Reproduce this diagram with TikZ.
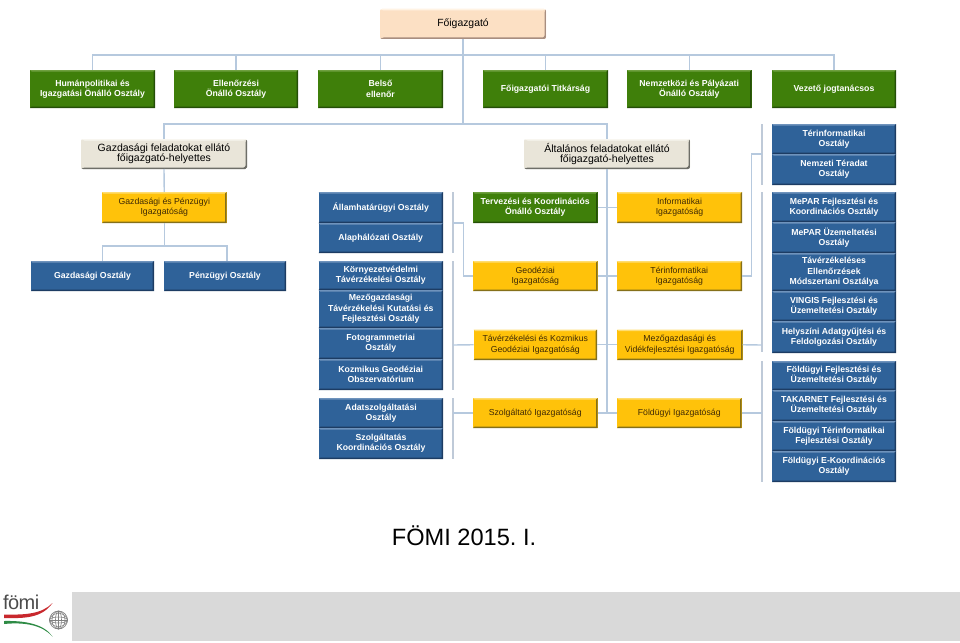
\documentclass[tikz,border=0pt]{standalone}
\usepackage{fontspec}
\setmainfont{Liberation Sans}
\definecolor{conn}{HTML}{B6C9DE}
\definecolor{barc}{HTML}{BFCAD8}
\definecolor{bluef}{HTML}{2F6299}
\definecolor{blueh}{HTML}{6F93BC}
\definecolor{blued}{HTML}{1D3C63}
\definecolor{greenf}{HTML}{3F7F0A}
\definecolor{greenh}{HTML}{6FA040}
\definecolor{greend}{HTML}{254F08}
\definecolor{yelf}{HTML}{FFC20A}
\definecolor{yelh}{HTML}{FFDD70}
\definecolor{yeld}{HTML}{85701A}
\definecolor{peachf}{HTML}{FCE0C4}
\definecolor{peachh}{HTML}{FFF3E4}
\definecolor{peachd}{HTML}{A88E80}
\definecolor{beigef}{HTML}{E9E5D9}
\definecolor{beigeh}{HTML}{F8F6F0}
\definecolor{beiged}{HTML}{6E6E68}
\definecolor{yeltxt}{HTML}{3F2A05}
\definecolor{logored}{HTML}{C8282D}
\definecolor{logogreen}{HTML}{2E8B45}
\tikzset{
  bevel/.style n args={3}{fill=#1,path picture={
    \fill[#2] (path picture bounding box.north west) -- (path picture bounding box.north east)
       -- ([xshift=-1.5pt,yshift=-1.5pt]path picture bounding box.north east)
       -- ([xshift=1.5pt,yshift=-1.5pt]path picture bounding box.north west) -- cycle;
    \fill[#3] (path picture bounding box.south west) -- (path picture bounding box.south east)
       -- (path picture bounding box.north east)
       -- ([xshift=-1.5pt,yshift=-1.5pt]path picture bounding box.north east)
       -- ([xshift=-1.5pt,yshift=1.5pt]path picture bounding box.south east)
       -- ([xshift=1.5pt,yshift=1.5pt]path picture bounding box.south west) -- cycle;
  }},
  basebox/.style={inner sep=0pt,outer sep=0pt,align=center},
  bluebox/.style={basebox,bevel={bluef}{blueh}{blued},text=white,font=\fontsize{8.7}{10.3}\selectfont\bfseries},
  greenbox/.style={basebox,bevel={greenf}{greenh}{greend},text=white,font=\fontsize{8.7}{10.3}\selectfont\bfseries},
  yelbox/.style={basebox,bevel={yelf}{yelh}{yeld},text=yeltxt,font=\fontsize{8.7}{10.3}\selectfont},
  bossbox/.style={basebox,rounded corners=2pt,bevel={peachf}{peachh}{peachd},text=black,font=\fontsize{10.4}{10}\selectfont},
  depbox/.style={basebox,rounded corners=2pt,bevel={beigef}{beigeh}{beiged},text=black,font=\fontsize{10.5}{10}\selectfont},
  link/.style={conn,line width=1.4pt,line join=miter},
  bar/.style={barc,line width=2pt},
  globe/.style={black!50,line width=0.6pt}
}
\newcommand{\bx}[7]{\node[#6,minimum width={(#4-#2)*1pt},minimum height={(#5-#3)*1pt}] (#1) at ({(#2+#4)/2},{(#3+#5)/2}) {#7};}
\begin{document}
\begin{tikzpicture}[x=1pt,y=-1pt]
\useasboundingbox (0,0) rectangle (960,642);
% boxes
\bx{boss}{380}{9}{546}{39}{bossbox}{Főigazgató}
\bx{gA}{30}{70}{155}{108}{greenbox}{Humánpolitikai  és\\Igazgatási  Önálló Osztály}
\bx{gB}{174}{70}{298}{108}{greenbox}{Ellenőrzési\\Önálló Osztály}
\bx{gC}{318}{70}{443}{108}{greenbox}{Belső\\ellenőr}
\bx{gD}{483}{70}{608}{108}{greenbox}{Főigazgatói Titkárság}
\bx{gE}{627}{70}{751.5}{108}{greenbox}{Nemzetközi és Pályázati\\Önálló Osztály}
\bx{gF}{772}{70}{896}{108}{greenbox}{Vezető jogtanácsos}
\bx{depA}{81}{139}{247}{169}{depbox}{Gazdasági feladatokat ellátó\\főigazgató-helyettes}
\bx{depB}{524}{139}{690}{169}{depbox}{Általános feladatokat ellátó\\főigazgató-helyettes}
\bx{yFin}{102}{192}{226.5}{223}{yelbox}{Gazdasági és Pénzügyi\\Igazgatóság}
\bx{bGaz}{31}{261}{154}{291}{bluebox}{Gazdasági Osztály}
\bx{bPen}{164}{261}{286}{291}{bluebox}{Pénzügyi Osztály}
\bx{cA}{318.5}{192}{443}{223}{bluebox}{Államhatárügyi Osztály}
\bx{cB}{318.5}{223}{443}{253}{bluebox}{Alaphálózati Osztály}
\bx{cC}{318.5}{261}{443}{290}{bluebox}{Környezetvédelmi\\Távérzékelési Osztály}
\bx{cD}{318.5}{290}{443}{328}{bluebox}{Mezőgazdasági\\Távérzékelési Kutatási és\\Fejlesztési Osztály}
\bx{cE}{318.5}{328}{443}{359}{bluebox}{Fotogrammetriai\\Osztály}
\bx{cF}{318.5}{359}{443}{390}{bluebox}{Kozmikus Geodéziai\\Obszervatórium}
\bx{cG}{319}{398}{443}{428}{bluebox}{Adatszolgáltatási\\Osztály}
\bx{cH}{319}{428}{443}{459}{bluebox}{Szolgáltatás\\Koordinációs Osztály}
\bx{dA}{473}{192}{597.5}{223}{greenbox}{Tervezési és Koordinációs\\Önálló Osztály}
\bx{dB}{473}{261}{597.5}{291}{yelbox}{Geodéziai\\Igazgatóság}
\bx{dC}{473.5}{329.5}{597}{360}{yelbox}{Távérzékelési és Kozmikus\\Geodéziai Igazgatóság}
\bx{dD}{473}{398}{597.5}{428}{yelbox}{Szolgáltató Igazgatóság}
\bx{eA}{617}{192}{742}{223}{yelbox}{Informatikai\\Igazgatóság}
\bx{eB}{616.5}{261}{742}{291}{yelbox}{Térinformatikai\\Igazgatóság}
\bx{eC}{617}{329.5}{742.5}{360}{yelbox}{Mezőgazdasági és\\Vidékfejlesztési Igazgatóság}
\bx{eD}{617}{398}{741.5}{428}{yelbox}{Földügyi Igazgatóság}
\bx{fA}{772}{124}{896}{154}{bluebox}{Térinformatikai\\Osztály}
\bx{fB}{772}{154}{896}{185}{bluebox}{Nemzeti Téradat\\Osztály}
\bx{fC}{772}{192}{896}{222}{bluebox}{MePAR Fejlesztési és\\Koordinációs Osztály}
\bx{fD}{772}{222}{896}{253}{bluebox}{MePAR Üzemeltetési\\Osztály}
\bx{fE}{772}{253}{896}{291}{bluebox}{Távérzékeléses\\Ellenőrzések\\Módszertani Osztálya}
\bx{fF}{772}{291}{896}{321}{bluebox}{VINGIS Fejlesztési és\\Üzemeltetési Osztály}
\bx{fG}{772}{321}{896}{353}{bluebox}{Helyszíni Adatgyűjtési és\\Feldolgozási Osztály}
\bx{fH}{772}{361}{896}{390}{bluebox}{Földügyi Fejlesztési és\\Üzemeltetési Osztály}
\bx{fI}{772}{390}{896}{421}{bluebox}{TAKARNET Fejlesztési és\\Üzemeltetési Osztály}
\bx{fJ}{772}{421}{896}{451}{bluebox}{Földügyi Térinformatikai\\Fejlesztési Osztály}
\bx{fK}{772}{451}{896}{482}{bluebox}{Földügyi E-Koordinációs\\Osztály}
% junctions
\coordinate (busT) at (463,55);
\coordinate (busM) at (463,124);
\coordinate (busF) at (164.25,246);
\coordinate (trunkB) at (607,413);
\coordinate (tC) at (607,276);
\coordinate (lA1) at (453,192);
\coordinate (lA2) at (453,253);
\coordinate (lB1) at (453,261);
\coordinate (lB2) at (453,390);
\coordinate (lC1) at (453,398);
\coordinate (lC2) at (453,459);
\coordinate (lAm) at (453,223);
\coordinate (lAk) at (463.5,276);
\coordinate (lBm) at (453,345);
\coordinate (lCm) at (453,413);
\coordinate (rA1) at (761.5,124);
\coordinate (rA2) at (761.5,185);
\coordinate (rB1) at (761.5,192);
\coordinate (rB2) at (761.5,352);
\coordinate (rC1) at (761.5,361);
\coordinate (rC2) at (761.5,482);
\coordinate (rAm) at (761.5,154);
\coordinate (rAk) at (751.5,276);
\coordinate (rBm) at (761.5,345);
\coordinate (rCm) at (761.5,413);
\coordinate (fL) at (102.5,261);
\coordinate (fR) at (227,261);
% connectors
\draw[link] (boss.south) -- (busM);
\draw[link] (gA.north) |- (busT) -| (gF.north);
\draw[link] (gB.north) -- (gB.north |- busT);
\draw[link] (gC.north) -- (gC.north |- busT);
\draw[link] (gD.north) -- (gD.north |- busT);
\draw[link] (gE.north) -- (gE.north |- busT);
\draw[link] (depA.north) |- (busM) -| (depB.north);
\draw[link] (depA.south) -- (yFin.north);
\draw[link] (yFin.south) -- (busF);
\draw[link] (fL) |- (busF) -| (fR);
\draw[link] (depB.south) -- (depB.south |- trunkB) -- (trunkB) -- (eD.west);
\draw[link] (dA.east) -- (eA.west);
\draw[link] (dB.east) -- (eB.west);
\draw[link] (dC.east) -- (eC.west);
\draw[link] (dD.east) -- (eD.west);
\draw[bar] (lA1) -- (lA2);
\draw[bar] (lB1) -- (lB2);
\draw[bar] (lC1) -- (lC2);
\draw[bar] (rA1) -- (rA2);
\draw[bar] (rB1) -- (rB2);
\draw[bar] (rC1) -- (rC2);
\draw[link] (lAm) -| (lAk) -- (dB.west);
\draw[link] (lBm) -- (dC.west);
\draw[link] (lCm) -- (dD.west);
\draw[link] (rAm) -| (rAk) -- (eB.east);
\draw[link] (eC.east) -- (rBm);
\draw[link] (eD.east) -- (rCm);
% footer
\node[inner sep=0pt,font=\frenchspacing\fontsize{23.6}{23.6}\selectfont,text=black] (title) at (464,536) {FÖMI 2015. I.};
\fill[black!15] (72,592) rectangle (960,641);
% logo
\node[inner sep=0pt,anchor=base west,font=\fontsize{20}{20}\selectfont,text=black!70] (logo) at (3,609) {\addfontfeature{LetterSpace=-3}fömi};
\fill[logored] (4,614.5) -- (4,618) .. controls (25,618.5) and (42,618) .. (52.5,603) .. controls (42,614) and (25,615) .. (4,614.5) -- cycle;
\fill[logogreen] (4,621) -- (4,624) .. controls (25,622) and (42,625) .. (52.5,636.5) .. controls (44,624) and (25,620.5) .. (4,621) -- cycle;
\draw[globe] (58.5,620) circle (9);
\draw[globe] (58.5,620) ellipse (3 and 9);
\draw[globe] (58.5,620) ellipse (6.5 and 9);
\draw[globe] (58.5,620) ellipse (9 and 3);
\draw[globe] (58.5,620) ellipse (9 and 6.5);
\draw[globe] (49.5,620) -- (67.5,620) (58.5,611) -- (58.5,629);
\end{tikzpicture}
\end{document}
